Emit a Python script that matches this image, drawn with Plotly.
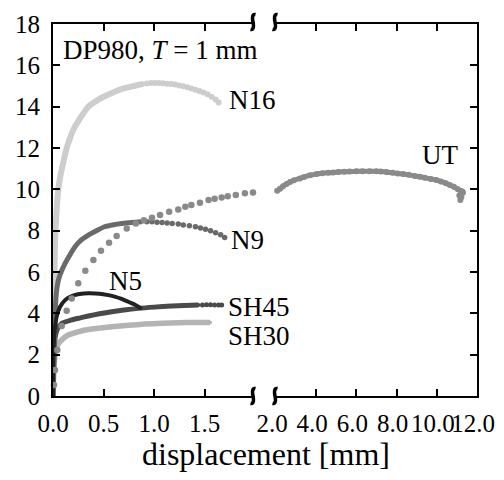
import plotly.graph_objects as go

# ---------------- data ----------------
# N16 specimen
n16_band_x = [0.0, 0.005, 0.01, 0.015, 0.02, 0.03, 0.04, 0.053, 0.075, 0.10, 0.135, 0.17, 0.20, 0.25, 0.30, 0.35, 0.42, 0.50, 0.60, 0.70, 0.80, 0.89]
n16_band_y = [0.0, 2.0, 4.0, 6.0, 7.5, 8.5, 9.3, 10.0, 10.7, 11.26, 12.0, 12.5, 12.87, 13.3, 13.67, 14.0, 14.25, 14.48, 14.7, 14.88, 15.0, 15.1]
n16_dot_x = [0.93, 0.97, 1.01, 1.05, 1.09, 1.13, 1.17, 1.21, 1.25, 1.29, 1.33, 1.37, 1.41, 1.45, 1.49, 1.53, 1.57, 1.61, 1.64]
n16_dot_y = [15.12, 15.14, 15.15, 15.14, 15.13, 15.11, 15.1, 15.07, 15.03, 14.99, 14.94, 14.88, 14.82, 14.76, 14.68, 14.6, 14.48, 14.35, 14.2]

# N9 specimen
n9_band_x = [0.0, 0.01, 0.02, 0.03, 0.04, 0.053, 0.08, 0.12, 0.17, 0.22, 0.28, 0.35, 0.43, 0.51, 0.60, 0.68, 0.78, 0.88]
n9_band_y = [0.0, 2.0, 3.8, 4.8, 5.25, 5.6, 6.0, 6.42, 6.85, 7.23, 7.55, 7.79, 8.0, 8.19, 8.29, 8.35, 8.4, 8.43]
n9_dot_x = [0.93, 0.98, 1.03, 1.08, 1.13, 1.18, 1.24, 1.29, 1.35, 1.41, 1.46, 1.51, 1.56, 1.61, 1.66, 1.70]
n9_dot_y = [8.43, 8.43, 8.41, 8.39, 8.37, 8.35, 8.32, 8.28, 8.24, 8.19, 8.13, 8.07, 7.99, 7.9, 7.8, 7.67]

# N5 specimen
n5_x = [0.0, 0.003, 0.01, 0.02, 0.036, 0.07, 0.12, 0.17, 0.22, 0.28, 0.35, 0.42, 0.48, 0.55, 0.61, 0.68, 0.745, 0.80, 0.845, 0.87]
n5_y = [0.0, 1.6, 2.7, 3.3, 3.84, 4.32, 4.64, 4.8, 4.89, 4.95, 4.97, 4.96, 4.94, 4.88, 4.81, 4.7, 4.56, 4.45, 4.32, 4.25]

# SH45 specimen
sh45_band_x = [0.0, 0.01, 0.02, 0.04, 0.086, 0.185, 0.27, 0.35, 0.46, 0.58, 0.70, 0.845, 1.0, 1.175, 1.3, 1.44]
sh45_band_y = [0.0, 2.0, 2.8, 3.2, 3.51, 3.68, 3.78, 3.87, 3.98, 4.08, 4.16, 4.24, 4.3, 4.35, 4.38, 4.4]
sh45_dot_x = [1.48, 1.52, 1.56, 1.60, 1.64, 1.67]
sh45_dot_y = [4.4, 4.41, 4.41, 4.4, 4.4, 4.4]

# SH30 specimen
sh30_x = [0.0, 0.01, 0.03, 0.05, 0.086, 0.15, 0.23, 0.32, 0.45, 0.58, 0.75, 0.91, 1.08, 1.24, 1.40, 1.555]
sh30_y = [0.0, 1.5, 2.2, 2.5, 2.71, 2.95, 3.08, 3.19, 3.28, 3.35, 3.42, 3.48, 3.52, 3.55, 3.56, 3.56]

# UT (uniaxial tension) - left part (0-2 mm) and right part (2-12 mm)
ut_l_x = [0.01, 0.02, 0.043, 0.086, 0.135, 0.185, 0.25, 0.32, 0.40, 0.475, 0.555, 0.63, 0.73, 0.82, 0.90, 0.98, 1.06, 1.15, 1.24, 1.31, 1.37, 1.455, 1.54, 1.60, 1.67, 1.73, 1.81, 1.90, 1.98]
ut_l_y = [0.53, 1.26, 2.23, 3.39, 4.13, 4.72, 5.46, 6.06, 6.58, 7.03, 7.42, 7.74, 8.1, 8.35, 8.5, 8.63, 8.76, 8.92, 9.03, 9.16, 9.24, 9.35, 9.48, 9.54, 9.61, 9.67, 9.72, 9.81, 9.85]
ut_r_x = [2.06, 2.2, 2.35, 2.53, 2.7, 2.9, 3.19, 3.4, 3.7, 4.02, 4.3, 4.6, 4.84, 5.1, 5.4, 5.67, 6.0, 6.3, 6.66, 7.0, 7.2, 7.49, 7.8, 8.05, 8.32, 8.6, 8.9, 9.15, 9.4, 9.7, 9.98, 10.2, 10.45, 10.64, 10.85, 11.05, 11.2, 11.3]
ut_r_y = [9.93, 10.03, 10.15, 10.26, 10.35, 10.44, 10.53, 10.6, 10.68, 10.74, 10.78, 10.8, 10.81, 10.84, 10.85, 10.86, 10.87, 10.88, 10.88, 10.87, 10.86, 10.84, 10.8, 10.77, 10.74, 10.7, 10.65, 10.61, 10.56, 10.5, 10.45, 10.38, 10.3, 10.21, 10.12, 10.0, 9.92, 9.83]
ut_end_x = [11.12, 11.17, 11.22, 11.27]
ut_end_y = [9.7, 9.48, 9.62, 9.9]

# tick labels
x1_ticks = [0.0, 0.5, 1.0, 1.5]
x1_labels = ["0.0", "0.5", "1.0", "1.5"]
x2_ticks = [2, 4, 6, 8, 10, 12]
x2_labels = ["2.0", "4.0", "6.0", "8.0", "10.0", "12.0"]
y_ticks = [0, 2, 4, 6, 8, 10, 12, 14, 16, 18]

# labels: (text, axis, x, y)
curve_labels = [
    ("N16", "x", 1.72, 14.3),
    ("N9", "x", 1.74, 7.55),
    ("N5", "x", 0.53, 5.55),
    ("SH45", "x", 1.71, 4.3),
    ("SH30", "x", 1.71, 2.9),
    ("UT", "x2", 9.15, 11.65),
]

# ---------------- layout geometry ----------------
# page body has an 8px margin, so the figure is 16px smaller than the window
W, H = 488, 464
ML, MR, MT, MB = 45, 19, 16, 76
PW = W - ML - MR
PH = H - MT - MB
FONT = "Liberation Serif"

C_N16 = "#cdcdcd"
C_UT = "#8a8a8a"
C_N9 = "#6a6a6a"
C_N5 = "#222222"
C_SH45 = "#4a4a4a"
C_SH30 = "#b4b4b4"

fig = go.Figure()


def band(x, y, color, width, msize, xa="x", ya="y"):
    fig.add_trace(go.Scatter(x=x, y=y, mode="lines+markers", xaxis=xa, yaxis=ya,
                             line=dict(color=color, width=width, shape="spline", smoothing=0.6),
                             marker=dict(color=color, size=msize),
                             cliponaxis=False, showlegend=False, hoverinfo="skip"))


def dots(x, y, color, size, xa="x", ya="y"):
    fig.add_trace(go.Scatter(x=x, y=y, mode="markers", xaxis=xa, yaxis=ya,
                             marker=dict(color=color, size=size),
                             cliponaxis=False, showlegend=False, hoverinfo="skip"))


band(n16_band_x, n16_band_y, C_N16, 6, 5)
dots(n16_dot_x, n16_dot_y, C_N16, 6)
band(sh30_x, sh30_y, C_SH30, 5.5, 4)
band(sh45_band_x, sh45_band_y, C_SH45, 5, 4)
dots(sh45_dot_x, sh45_dot_y, C_SH45, 5)
band(n9_band_x, n9_band_y, C_N9, 5, 4)
dots(n9_dot_x, n9_dot_y, C_N9, 5.5)
band(n5_x, n5_y, C_N5, 4, 3)
dots(ut_l_x, ut_l_y, C_UT, 6.5)
band(ut_r_x, ut_r_y, C_UT, 5, 6, xa="x2", ya="y2")
dots(ut_end_x, ut_end_y, C_UT, 6, xa="x2", ya="y2")

axis_common = dict(showline=True, linecolor="black", linewidth=2, ticks="inside",
                   ticklen=7, tickwidth=1.5, tickcolor="black", showgrid=False,
                   zeroline=False, automargin=False, ticklabeloverflow="allow",
                   tickfont=dict(family=FONT, size=25, color="black"))

split1 = 202 / PW
split2 = 223 / PW

fig.update_layout(
    template="none",
    width=W, height=H,
    margin=dict(l=ML, r=MR, t=MT, b=MB, pad=0, autoexpand=False),
    paper_bgcolor="white", plot_bgcolor="white",
    font=dict(family=FONT, color="black"),
    showlegend=False,
    xaxis=dict(domain=[0, split1], range=[0, 2.0], tickvals=x1_ticks, ticktext=x1_labels,
               anchor="y", mirror="ticks", tickangle=0, ticklabelstandoff=4, **axis_common),
    xaxis2=dict(domain=[split2, 1], range=[2, 12], tickvals=x2_ticks, ticktext=x2_labels,
                anchor="y2", mirror="ticks", tickangle=0, ticklabelstandoff=4,
                ticklabelshift=-4, **axis_common),
    yaxis=dict(domain=[0, 1], range=[0, 18], tickvals=y_ticks, anchor="x",
               ticklabelstandoff=6, **axis_common),
    yaxis2=dict(domain=[0, 1], range=[0, 18], tickvals=y_ticks, anchor="x2", side="right",
                matches="y", showticklabels=False, **axis_common),
)

# curve labels
for text, xa, xv, yv in curve_labels:
    fig.add_annotation(text=text, x=xv, y=yv, xref=xa, yref="y" if xa == "x" else "y2",
                       xanchor="left", yanchor="middle", showarrow=False,
                       font=dict(family=FONT, size=27, color="black"))

# panel title
fig.add_annotation(text="DP980, <i>T</i> = 1 mm", x=0.08, y=16.75, xref="x", yref="y",
                   xanchor="left", yanchor="middle", showarrow=False,
                   font=dict(family=FONT, size=27, color="black"))


# pixel (reference image coords) -> paper coords
def px(x):
    return (x - 8 - ML) / PW


def py(y):
    return (MT + PH - (y - 8)) / PH


# axis title
fig.add_annotation(text="displacement [mm]", x=px(265.5), y=py(454),
                   xref="paper", yref="paper", xanchor="center", yanchor="middle",
                   showarrow=False, font=dict(family=FONT, size=32, color="black"))


# axis-break marks (squiggles)
def squiggle(cx, cy):
    pts = [(2.5, -7.5), (-1.5, -8.5), (-0.5, -2), (0, 0), (0.5, 2), (1.5, 8.5), (-2.5, 7.5)]
    p = [(px(cx + dx), py(cy + dy)) for dx, dy in pts]
    return (f"M {p[0][0]},{p[0][1]} C {p[1][0]},{p[1][1]} {p[2][0]},{p[2][1]} {p[3][0]},{p[3][1]} "
            f"C {p[4][0]},{p[4][1]} {p[5][0]},{p[5][1]} {p[6][0]},{p[6][1]}")


for cx in (253, 275):
    for cy in (22, 396):
        fig.add_shape(type="path", path=squiggle(cx, cy), xref="paper", yref="paper",
                      line=dict(color="black", width=3.5))

fig.write_html("out.html")
